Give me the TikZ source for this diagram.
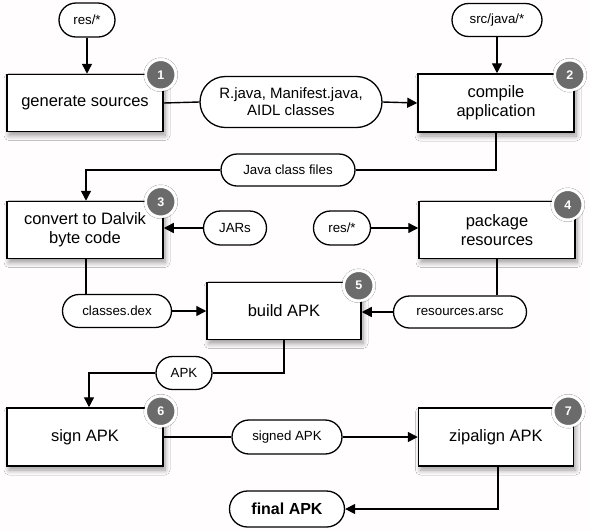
\documentclass[tikz,border=0pt]{standalone}
\usepackage{fontspec}
\setmainfont{Liberation Sans}
\usetikzlibrary{shapes.misc,shadows,shadows.blur,arrows.meta}
\begin{document}
\begin{tikzpicture}[x=1pt,y=-1pt,
  stepbox/.style={draw, line width=1.5pt, fill=white, rectangle, minimum width=156pt, minimum height=57pt, align=center, inner sep=0pt,
    font=\fontsize{16.5}{19}\selectfont,
    blur shadow={shadow xshift=2pt, shadow yshift=-4pt, shadow opacity=40, shadow blur radius=5pt, shadow blur steps=8}},
  pill/.style={draw, line width=1.3pt, fill=white, rounded rectangle, inner sep=0pt, align=center,
    font=\fontsize{13.3}{16}\selectfont},
  badge/.style={circle, fill=black!58, draw=white, line width=2.5pt, minimum size=30pt, inner sep=0pt,
    text=white, font=\bfseries\fontsize{12.5}{14}\selectfont,
    blur shadow={shadow xshift=0pt, shadow yshift=0pt, shadow opacity=25, shadow blur radius=2pt, shadow blur steps=5}},
  conn/.style={line width=1.4pt},
  arr/.style={line width=1.4pt, -{Triangle[length=10pt,width=10pt]}}
]
\fill[white!97!pink] (0,0) rectangle (590,531);
\useasboundingbox (0,0) rectangle (590,531);

% step boxes
\node[stepbox] (gen) at (85,103) {generate sources};
\node[stepbox, minimum height=58pt] (compile) at (496,103) {compile\\application};
\node[stepbox] (convert) at (85,230) {convert to Dalvik\\byte code};
\node[stepbox] (package) at (497,230) {package\\resources};
\node[stepbox, minimum width=154pt] (build) at (284,311) {build APK};
\node[stepbox, minimum height=58pt] (sign) at (85,437) {sign APK};
\node[stepbox, minimum width=155pt, minimum height=58pt] (zip) at (496,437) {zipalign APK};

% badges
\node[badge] (b1) at ([xshift=-3pt,yshift=-1pt]gen.north east) {1};
\node[badge] (b2) at ([xshift=-5pt,yshift=-2pt]compile.north east) {2};
\node[badge] (b3) at ([xshift=-3pt,yshift=-1pt]convert.north east) {3};
\node[badge] (b4) at ([xshift=-8pt,yshift=-4pt]package.north east) {4};
\node[badge] (b5) at ([xshift=-3pt,yshift=-4pt]build.north east) {5};
\node[badge] (b6) at ([xshift=-3pt,yshift=-4pt]sign.north east) {6};
\node[badge] (b7) at ([xshift=-6pt,yshift=-4pt]zip.north east) {7};

% pills
\node[pill, minimum width=56pt, minimum height=34pt] (res1) at (87,20) {res/*};
\node[pill, minimum width=90pt, minimum height=33pt] (src) at (497,20) {src/java/*};
\node[pill, minimum width=182pt, minimum height=51pt, font=\fontsize{15}{17}\selectfont] (rjava) at (291,102) {R.java, Manifest.java,\\AIDL classes};
\node[pill, minimum width=134pt, minimum height=32pt] (javaclass) at (288,170) {Java class files};
\node[pill, minimum width=63pt, minimum height=34pt] (jars) at (235,228) {JARs};
\node[pill, minimum width=57pt, minimum height=34pt] (res2) at (342,228) {res/*};
\node[pill, minimum width=109pt, minimum height=33pt] (dex) at (117,311) {classes.dex};
\node[pill, minimum width=133pt, minimum height=32pt] (arsc) at (460,312) {resources.arsc};
\node[pill, minimum width=56pt, minimum height=33pt] (apk) at (184,373) {APK};
\node[pill, minimum width=110pt, minimum height=34pt] (signed) at (287,437) {signed APK};
\node[pill, minimum width=115pt, minimum height=36pt, font=\bfseries\fontsize{16}{19}\selectfont] (final) at (287,509) {final APK};

% connectors
\draw[arr] (res1.south) -- (res1.south |- gen.north);
\draw[conn] (gen.east) -- (rjava.west);
\draw[arr] (rjava.east) -- (compile.west);
\draw[arr] (src.south) -- (src.south |- compile.north);
\draw[conn] (compile.south) -- (compile.south |- javaclass.east) -- (javaclass.east);
\coordinate (cvin) at ([xshift=1pt]convert.north);
\draw[arr] (javaclass.west) -- (cvin |- javaclass.west) -- (cvin);
\draw[arr] (jars.west) -- (jars.west -| convert.east);
\coordinate (cvout) at ([xshift=1pt]convert.south);
\draw[conn] (cvout) -- (cvout |- dex.north);
\draw[arr] (dex.east) -- (dex.east -| build.west);
\draw[arr] (res2.east) -- (res2.east -| package.west);
\draw[conn] (package.south) -- (package.south |- arsc.north);
\draw[arr] (arsc.west) -- (arsc.west -| build.east);
\draw[conn] (build.south) -- (build.south |- apk.east) -- (apk.east);
\coordinate (sgin) at ([xshift=4pt]sign.north);
\draw[arr] (apk.west) -- (sgin |- apk.west) -- (sgin);
\draw[conn] (sign.east) -- (signed.west);
\draw[arr] (signed.east) -- (zip.west);
\coordinate (zout) at ([xshift=2pt]zip.south);
\draw[arr] (zout) -- (zout |- final.east) -- (final.east);
\end{tikzpicture}
\end{document}
